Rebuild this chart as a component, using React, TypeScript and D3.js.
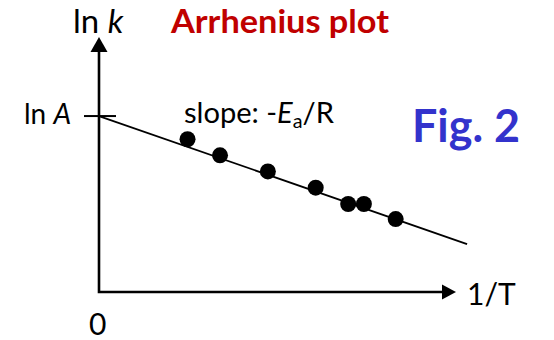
import React from 'react';
import * as d3 from 'd3';

// 1/T (arbitrary units) and ln k for the measured points
const invT = [0.248, 0.339, 0.473, 0.607, 0.698, 0.742, 0.831];
const lnK = [0.599, 0.536, 0.473, 0.409, 0.345, 0.345, 0.286];
// fitted line: intercept ln A and the end of the drawn line
const lnA = 0.69;
const slope = -0.487;
const lineEndX = 1.031;

const W = 554;
const H = 340;
const font = 'Lato, "Open Sans", sans-serif';

const App = () => {
  const x = d3.scaleLinear().domain([0, 1]).range([99, 456]);
  const y = d3.scaleLinear().domain([0, 1]).range([292, 37]);

  const fit = d3
    .line<number>()
    .x(d => x(d))
    .y(d => y(lnA + slope * d));

  const x0 = x(0);
  const y0 = y(0);
  const xTip = x(1);
  const yTip = y(1);

  return (
    <svg width={W} height={H} style={{ position: 'absolute', left: 0, top: 0, background: '#fff' }}>
      {/* axes */}
      <path d={`M${x0},${yTip + 10}V${y0}H${xTip - 10}`} fill="none" stroke="#000" strokeWidth={2.6} />
      <path d={`M${x0},${yTip}L${x0 - 8.5},${yTip + 15}L${x0 + 8.5},${yTip + 15}Z`} fill="#000" />
      <path d={`M${xTip},${y0}L${xTip - 14},${y0 - 7.5}L${xTip - 14},${y0 + 7.5}Z`} fill="#000" />

      {/* ln A tick */}
      <line x1={x0 - 15} x2={x0 + 17} y1={y(lnA)} y2={y(lnA)} stroke="#000" strokeWidth={2} />

      {/* fitted line */}
      <path d={fit([0, lineEndX]) || ''} fill="none" stroke="#000" strokeWidth={1.8} />

      {/* points */}
      {invT.map((v, i) => (
        <circle key={i} cx={x(v)} cy={y(lnK[i])} r={8} fill="#000" />
      ))}

      {/* labels */}
      <g fontFamily={font} fill="#000">
        <text x={73} y={33} fontSize={33}>
          ln <tspan fontStyle="italic">k</tspan>
        </text>
        <text x={24} y={124} fontSize={28}>
          ln <tspan fontStyle="italic">A</tspan>
        </text>
        <text x={184} y={123} fontSize={28} textLength={150} lengthAdjust="spacingAndGlyphs">
          slope: -<tspan fontStyle="italic">E</tspan>
          <tspan fontSize={19} dy={5}>a</tspan>
          <tspan dy={-5}>/R</tspan>
        </text>
        <text x={467} y={305} fontSize={30}>1/T</text>
        <text x={89} y={335} fontSize={30}>0</text>
      </g>
      <text x={171} y={33} fontFamily={font} fontWeight="bold" fontSize={32} fill="#C00000"
        textLength={218} lengthAdjust="spacingAndGlyphs">
        Arrhenius plot
      </text>
      <text x={412} y={142} fontFamily={font} fontWeight="bold" fontSize={46} fill="#3333CC"
        textLength={108} lengthAdjust="spacingAndGlyphs">
        Fig. 2
      </text>
    </svg>
  );
};

export default App;
